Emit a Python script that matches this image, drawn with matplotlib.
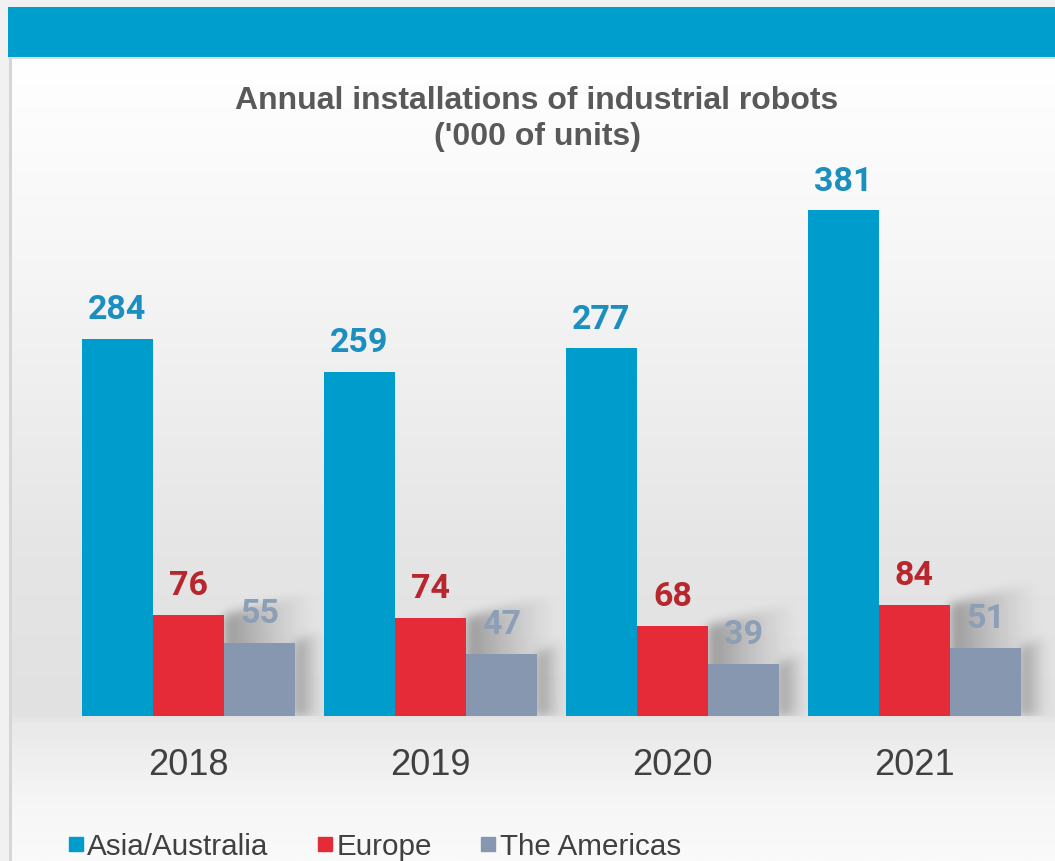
import numpy as np
import matplotlib
matplotlib.use("Agg")
import matplotlib.pyplot as plt
from matplotlib.colors import LinearSegmentedColormap
from matplotlib.patches import Rectangle
from matplotlib.lines import Line2D

# data, '000 of units
years = ["2018", "2019", "2020", "2021"]
regions = ["Asia/Australia", "Europe", "The Americas"]
asia = [284, 259, 277, 381]
europe = [76, 74, 68, 84]
americas = [55, 47, 39, 51]

bar_colors = ["#009ccc", "#e52a38", "#8797b0"]
label_colors = ["#1b8fc0", "#b8262e", "#8d9eb7"]
TEXT = "#404040"
SANS = ["Liberation Sans", "DejaVu Sans"]

W, H = 1055, 862
fig = plt.figure(figsize=(W / 100, H / 100), dpi=100)
fig.patch.set_facecolor("#f1f1f1")

# panel with soft vertical gradient
bg = fig.add_axes([11 / W, 0, 1 - 11 / W, (H - 60) / H])
bg.set_axis_off()
stops = [(0.0, "#ffffff"), (0.25, "#f6f6f6"), (0.62, "#e5e5e5"), (0.82, "#e1e1e1"),
         (0.83, "#e9e9e9"), (0.93, "#f6f6f6"), (1.0, "#fafafa")]
cmap = LinearSegmentedColormap.from_list("panel", stops)
bg.imshow(np.linspace(0, 1, 400)[:, None], aspect="auto", cmap=cmap,
          extent=[0, 1, 0, 1], origin="upper")
bg.set_xlim(0, 1); bg.set_ylim(0, 1)

# left border of panel and blue banner
fig.add_artist(Rectangle((9 / W, 0), 2.5 / W, (H - 58) / H, transform=fig.transFigure,
                         color="#d6d6d6", lw=0))
fig.add_artist(Rectangle((8 / W, (H - 60) / H), 1, 2 / H, transform=fig.transFigure,
                         color="#dcdcdc", lw=0))
fig.add_artist(Rectangle((8 / W, (H - 58) / H), 1, 50 / H, transform=fig.transFigure,
                         color="#009ecd", lw=0))

# bar axes: baseline at y=717px, 1.327 px per unit, group spacing 242 px
scale = 1.327
top_px = 160
ax = fig.add_axes([0, (H - 717) / H, 1, (717 - top_px) / H])
ax.patch.set_alpha(0)
xlim = (-188.5 / 242, (W - 188.5) / 242)
ylim = (0, (717 - top_px) / scale)
ax.set_xlim(*xlim)
ax.set_ylim(*ylim)
for s in ax.spines.values():
    s.set_visible(False)
ax.set_yticks([])

x = np.arange(len(years))
bw = 71 / 242
series = [asia, europe, americas]


def blur(a, sigma):
    r = int(3 * sigma)
    k = np.exp(-0.5 * (np.arange(-r, r + 1) / sigma) ** 2)
    k /= k.sum()
    a = np.apply_along_axis(lambda m: np.convolve(m, k, mode="same"), 0, a)
    return np.apply_along_axis(lambda m: np.convolve(m, k, mode="same"), 1, a)


# soft drop shadows cast to the right (and slightly up) by Europe and Americas bars
nx, ny = W, 717 - top_px
gx = np.linspace(*xlim, nx)
gy = np.linspace(ylim[1], ylim[0], ny)
GX, GY = np.meshgrid(gx, gy)
dens = np.zeros_like(GX)
for k, reach, rise in [(1, 1.3, 18), (2, 0.4, 10)]:
    for xi, v in zip(x + (k - 1) * bw, series[k]):
        t = (GX - (xi + bw / 2)) / (reach * bw)
        inside = (t >= 0) & (t <= 1) & (GY <= v + rise * t)
        dens = np.maximum(dens, np.where(inside, (1 - t) ** 1.3, 0))
dens = blur(dens, 5)
shade = np.zeros((ny, nx, 4))
shade[..., 3] = 0.33 * dens
ax.imshow(shade, extent=[*xlim, *ylim], aspect="auto", zorder=1, origin="upper")

for k, vals in enumerate(series):
    xs = x + (k - 1) * bw
    ax.bar(xs, vals, bw, color=bar_colors[k], zorder=3, linewidth=0)
    for xi, v in zip(xs, vals):
        ax.annotate(str(v), (xi, v), xytext=(0, 15), textcoords="offset points",
                    ha="center", va="baseline", fontsize=24.5, fontweight="bold",
                    color=label_colors[k], family=["Roboto", "DejaVu Sans"], zorder=4)

ax.set_xlim(*xlim)
ax.set_ylim(*ylim)
ax.set_xticks(x)
ax.set_xticklabels(years, fontsize=26, color=TEXT, family=SANS)
ax.tick_params(axis="x", length=0, pad=22)

fig.text(537 / W, (H - 101) / H, "Annual installations of industrial robots",
         ha="center", va="center", fontsize=23, fontweight="bold", color="#595959",
         family=SANS)
fig.text(537 / W, (H - 137) / H, "('000 of units)",
         ha="center", va="center", fontsize=23, fontweight="bold", color="#595959",
         family=SANS)

handles = [Line2D([], [], marker="s", ls="", color=c, markersize=10) for c in bar_colors]
fig.legend(handles, regions, loc="center left", bbox_to_anchor=(40 / W, (H - 847) / H),
           ncol=3, frameon=False, labelcolor=TEXT, handletextpad=0.1,
           columnspacing=1.6, handlelength=0.6, prop={"family": SANS, "size": 21.3})

fig.savefig("out.png", dpi=100)
